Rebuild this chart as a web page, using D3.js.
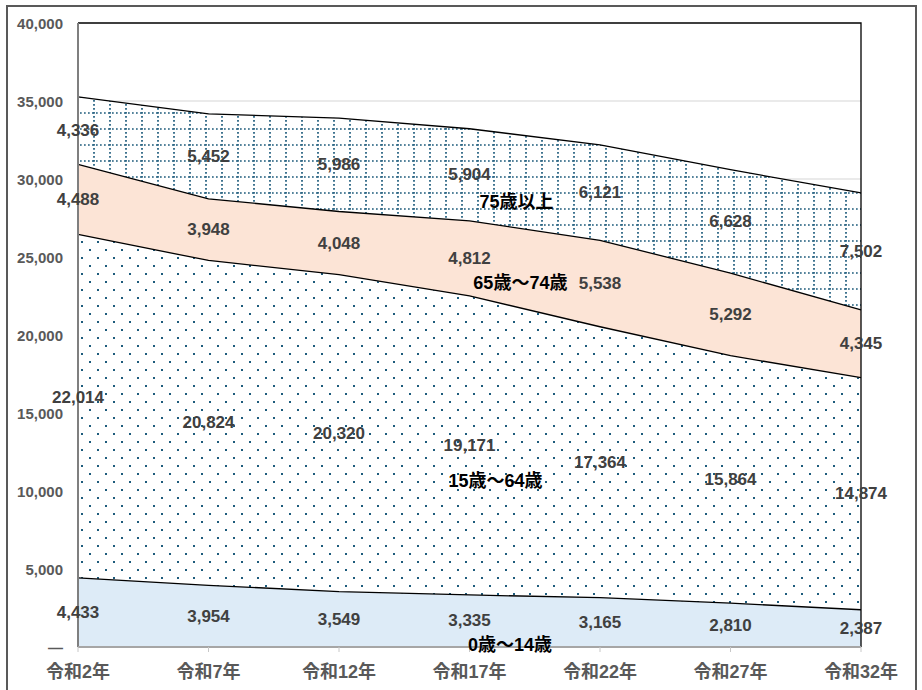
<!DOCTYPE html>
<html>
<head>
<meta charset="utf-8">
<script src="https://cdn.jsdelivr.net/npm/d3@7"></script>
<style>
  body { margin: 0; background: #fff; }
  svg text { font-family: "Liberation Sans", "Noto Sans CJK JP", sans-serif; font-weight: bold; }
</style>
</head>
<body>
<div id="chart"></div>
<script>
// 年次（令和）と年齢階層別人口
const years = ["令和2年", "令和7年", "令和12年", "令和17年", "令和22年", "令和27年", "令和32年"];
const groups = ["age0_14", "age15_64", "age65_74", "age75"];
const groupNames = ["0歳～14歳", "15歳～64歳", "65歳～74歳", "75歳以上"];
const age0_14 = [4433, 3954, 3549, 3335, 3165, 2810, 2387];
const age15_64 = [22014, 20824, 20320, 19171, 17364, 15864, 14874];
const age65_74 = [4488, 3948, 4048, 4812, 5538, 5292, 4345];
const age75 = [4336, 5452, 5986, 5904, 6121, 6628, 7502];
const yTicks = [0, 5000, 10000, 15000, 20000, 25000, 30000, 35000, 40000];
// series name labels: [category index position, value]
const nameAnchors = [[3.31, 128], [3.2, 10641], [3.39, 23333], [3.36, 28526]];

const width = 922;
const height = 690;
const margin = { top: 23, right: 61, bottom: 43, left: 78 };

const svg = d3.select("#chart")
  .append("svg")
  .attr("width", width)
  .attr("height", height);

// patterns
const defs = svg.append("defs");
const patColor = "#1d5b7c";

const grid = defs.append("pattern")
  .attr("id", "grid")
  .attr("patternUnits", "userSpaceOnUse")
  .attr("width", 16)
  .attr("height", 16);
grid.append("rect").attr("width", 16).attr("height", 16).attr("fill", "#fff");
grid.append("line")
  .attr("x1", 0).attr("x2", 16).attr("y1", 1).attr("y2", 1)
  .attr("stroke", patColor).attr("stroke-width", 1.7).attr("stroke-dasharray", "1.7,2.3");
grid.append("line")
  .attr("x1", 14).attr("x2", 14).attr("y1", 0).attr("y2", 16)
  .attr("stroke", patColor).attr("stroke-width", 1.7).attr("stroke-dasharray", "1.7,2.3");

const dots = defs.append("pattern")
  .attr("id", "dots")
  .attr("patternUnits", "userSpaceOnUse")
  .attr("width", 16)
  .attr("height", 16);
dots.append("rect").attr("width", 16).attr("height", 16).attr("fill", "#fff");
dots.append("rect").attr("x", 1).attr("y", 1).attr("width", 2).attr("height", 2).attr("fill", patColor);
dots.append("rect").attr("x", 9).attr("y", 9).attr("width", 2).attr("height", 2).attr("fill", patColor);

const fills = ["#ddebf7", "url(#dots)", "#fce4d6", "url(#grid)"];

// outer frame
svg.append("rect")
  .attr("x", 7).attr("y", 6)
  .attr("width", 909).attr("height", 700)
  .attr("fill", "none")
  .attr("stroke", "#595959")
  .attr("stroke-width", 2);

const x = d3.scalePoint()
  .domain(d3.range(years.length))
  .range([margin.left, width - margin.right]);

const y = d3.scaleLinear()
  .domain([0, 40000])
  .range([height - margin.bottom, margin.top]);

const xPos = i => margin.left + i * x.step();

// table for stacking
const series = { age0_14, age15_64, age65_74, age75 };
const table = years.map((yr, i) => {
  const row = { i };
  groups.forEach(g => row[g] = series[g][i]);
  return row;
});
const stacked = d3.stack().keys(groups)(table);

// gridlines
svg.append("g")
  .selectAll("line")
  .data(yTicks.filter(d => d > 0 && d < 40000))
  .join("line")
  .attr("x1", margin.left)
  .attr("x2", width - margin.right)
  .attr("y1", d => y(d))
  .attr("y2", d => y(d))
  .attr("stroke", "#e3e3e3")
  .attr("stroke-width", 1.5);

// areas
const area = d3.area()
  .x(d => x(d.data.i))
  .y0(d => y(d[0]))
  .y1(d => y(d[1]));

svg.append("g")
  .selectAll("path")
  .data(stacked)
  .join("path")
  .attr("d", area)
  .attr("fill", (d, i) => fills[i]);

// layer boundary lines
const topLine = d3.line()
  .x(d => x(d.data.i))
  .y(d => y(d[1]));

svg.append("g")
  .selectAll("path")
  .data(stacked)
  .join("path")
  .attr("d", topLine)
  .attr("fill", "none")
  .attr("stroke", "#000")
  .attr("stroke-width", 1.3);

// plot frame top & right
svg.append("path")
  .attr("d", `M${margin.left},${y(40000)}H${width - margin.right}V${y(0)}`)
  .attr("fill", "none")
  .attr("stroke", "#000")
  .attr("stroke-width", 1.3);

// y axis line
svg.append("line")
  .attr("x1", margin.left).attr("x2", margin.left)
  .attr("y1", y(40000)).attr("y2", y(0))
  .attr("stroke", "#7f7f7f")
  .attr("stroke-width", 2);

// x axis
const xAxis = svg.append("g");
xAxis.append("line")
  .attr("x1", margin.left).attr("x2", width - margin.right)
  .attr("y1", y(0)).attr("y2", y(0))
  .attr("stroke", "#a6a6a6")
  .attr("stroke-width", 2);
xAxis.selectAll(".tick")
  .data(years)
  .join("line")
  .attr("x1", (d, i) => x(i))
  .attr("x2", (d, i) => x(i))
  .attr("y1", y(0))
  .attr("y2", y(0) + 5)
  .attr("stroke", "#c8c8c8")
  .attr("stroke-width", 1);
xAxis.selectAll("text")
  .data(years)
  .join("text")
  .attr("x", (d, i) => x(i))
  .attr("y", y(0) + 25)
  .attr("text-anchor", "middle")
  .attr("dominant-baseline", "central")
  .attr("font-size", "18px")
  .attr("fill", "#595959")
  .text(d => d);

// y tick labels
svg.append("g")
  .selectAll("text")
  .data(yTicks)
  .join("text")
  .attr("x", margin.left - 15)
  .attr("y", d => y(d))
  .attr("text-anchor", "end")
  .attr("dominant-baseline", "central")
  .attr("font-size", "15px")
  .attr("fill", "#595959")
  .text(d => d === 0 ? "—" : d3.format(",")(d));

// data labels at layer centres (first 15-64 label lifted clear of the tick label)
svg.append("g")
  .selectAll("g")
  .data(stacked)
  .join("g")
  .selectAll("text")
  .data(d => d.map(p => ({ p, key: d.key })))
  .join("text")
  .attr("x", d => x(d.p.data.i))
  .attr("y", d => y((d.p[0] + d.p[1]) / 2) - (d.key === "age15_64" && d.p.data.i === 0 ? 9 : 0))
  .attr("text-anchor", "middle")
  .attr("dominant-baseline", "central")
  .attr("font-size", "17px")
  .attr("fill", "#404040")
  .text(d => d3.format(",")(d.p[1] - d.p[0]));

// series names
svg.append("g")
  .selectAll("text")
  .data(groupNames)
  .join("text")
  .attr("x", (d, i) => xPos(nameAnchors[i][0]))
  .attr("y", (d, i) => y(nameAnchors[i][1]))
  .attr("text-anchor", "middle")
  .attr("dominant-baseline", "central")
  .attr("font-size", "18px")
  .attr("fill", "#000")
  .text(d => d);
</script>
</body>
</html>
